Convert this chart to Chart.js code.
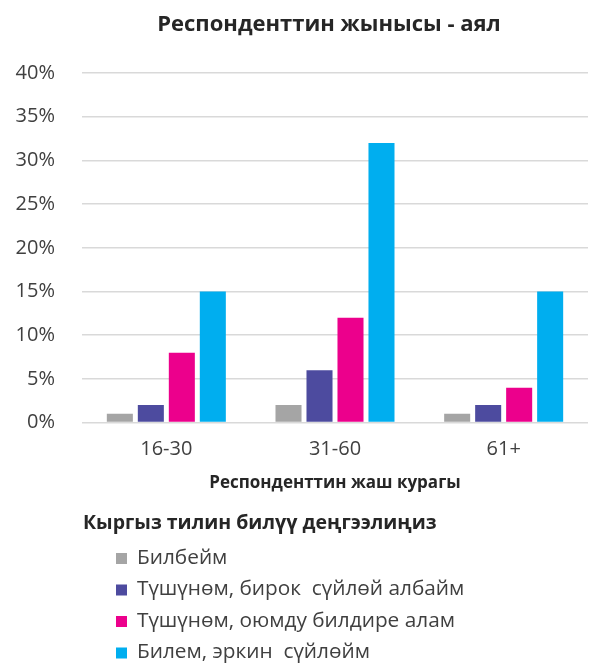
<!DOCTYPE html>
<html>
<head>
<meta charset="utf-8">
<script src="https://cdn.jsdelivr.net/npm/chart.js@4/dist/chart.umd.min.js"></script>
<style>
html,body{margin:0;padding:0;background:#fff;}
#wrap{width:589px;height:666px;position:relative;}
</style>
</head>
<body>
<div id="wrap"><canvas id="c" width="589" height="666"></canvas></div>
<script>
const chartTitle = "Респонденттин жынысы - аял";
const xAxisTitle = "Респонденттин жаш курагы";
const legendTitle = "Кыргыз тилин билүү деңгээлиңиз";
const categories = ["16-30", "31-60", "61+"];
const seriesNames = ["Билбейм", "Түшүнөм, бирок  сүйлөй албайм", "Түшүнөм, оюмду билдире алам", "Билем, эркин  сүйлөйм"];
const seriesColors = ["#A5A5A5", "#4D4B9F", "#EC008C", "#00AEEF"];
const valuesBilbeym = [1, 2, 1];
const valuesTushunomBirok = [2, 6, 2];
const valuesTushunomOyumdu = [8, 12, 4];
const valuesBilem = [15, 32, 15];
const yTicks = [0, 5, 10, 15, 20, 25, 30, 35, 40];

const FONT = "'Open Sans', 'DejaVu Sans', sans-serif";
const seriesValues = [valuesBilbeym, valuesTushunomBirok, valuesTushunomOyumdu, valuesBilem];

const textPlugin = {
  id: 'titleAndLegend',
  afterDraw(chart) {
    const ctx = chart.ctx;
    const area = chart.chartArea;
    ctx.save();
    ctx.textBaseline = 'middle';
    // chart title, centred over the plot area
    ctx.textAlign = 'center';
    ctx.fillStyle = '#262626';
    ctx.font = "bold 22px " + FONT;
    ctx.fillText(chartTitle, (area.left + area.right) / 2 - 6, 25);
    // legend
    ctx.textAlign = 'left';
    ctx.font = "bold 19.5px " + FONT;
    ctx.fillText(legendTitle, 83, 523);
    ctx.font = "20.8px " + FONT;
    chart.data.datasets.forEach((ds, i) => {
      const y = 558 + i * 31.5;
      ctx.fillStyle = ds.backgroundColor;
      ctx.fillRect(116, y - 5, 11, 11);
      ctx.fillStyle = '#404040';
      ctx.fillText(ds.label, 137, y);
    });
    ctx.restore();
  }
};

new Chart(document.getElementById('c'), {
  type: 'bar',
  data: {
    labels: categories,
    datasets: seriesNames.map((n, i) => ({
      label: n,
      data: seriesValues[i],
      backgroundColor: seriesColors[i],
      categoryPercentage: 0.735,
      barPercentage: 0.84
    }))
  },
  options: {
    responsive: false,
    animation: false,
    devicePixelRatio: 1,
    layout: { padding: { left: 0, right: 1, top: 73, bottom: 173 } },
    plugins: {
      legend: { display: false },
      tooltip: { enabled: false },
      title: { display: false }
    },
    scales: {
      x: {
        grid: { display: false, drawTicks: false },
        border: { display: false },
        ticks: { color: '#404040', font: { family: FONT, size: 20 }, padding: 15 },
        title: { display: true, text: xAxisTitle, color: '#262626', font: { family: FONT, size: 17, weight: 'bold' }, padding: { top: -4, bottom: 0 } }
      },
      y: {
        min: 0, max: 40,
        afterFit(scale) { scale.width = 82; },
        afterBuildTicks(scale) { scale.ticks = yTicks.map(v => ({ value: v })); },
        grid: { color: '#D9D9D9', lineWidth: 1.5, drawTicks: false },
        border: { display: false },
        ticks: { color: '#404040', font: { family: FONT, size: 20 }, padding: 27, callback: v => v + '%' }
      }
    }
  },
  plugins: [textPlugin]
});
</script>
</body>
</html>
